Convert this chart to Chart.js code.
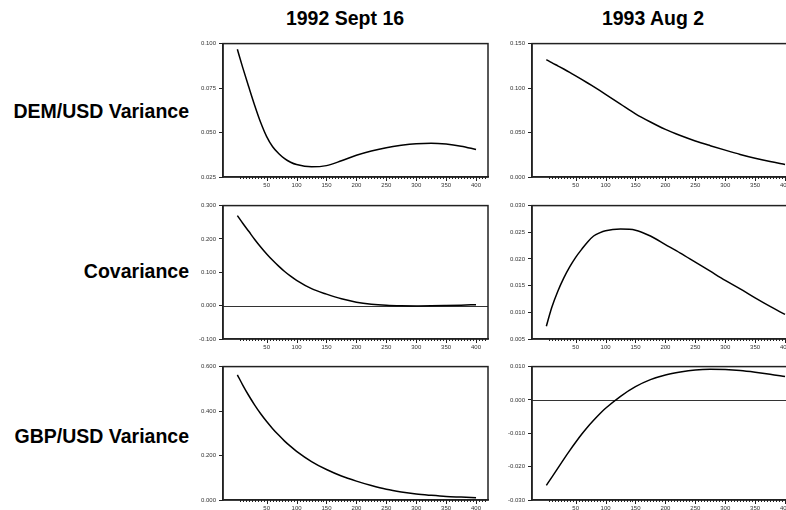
<!DOCTYPE html>
<html>
<head>
<meta charset="utf-8">
<script src="https://cdn.jsdelivr.net/npm/chart.js@4.4.1/dist/chart.umd.min.js"></script>
<style>
  body { margin: 0; width: 786px; height: 510px; overflow: hidden; background: #fff; position: relative;
         font-family: "Liberation Sans", Arial, sans-serif; }
  canvas { position: absolute; }
  .lbl { position: absolute; font-weight: bold; font-size: 19.5px; color: #000; white-space: nowrap; transform: translateY(-50%); }
  .col { text-align: center; width: 200px; }
  .row { text-align: right; width: 189px; left: 0; }
</style>
</head>
<body>
<div class="lbl col" style="left:245px; top:18px;">1992 Sept 16</div>
<div class="lbl col" style="left:553px; top:18px;">1993 Aug 2</div>
<div class="lbl row" style="top:111px;">DEM/USD Variance</div>
<div class="lbl row" style="top:271px;">Covariance</div>
<div class="lbl row" style="top:436px;">GBP/USD Variance</div>

<canvas id="p1" width="310" height="158" style="left:183px; top:37px;"></canvas>
<canvas id="p2" width="310" height="158" style="left:492px; top:37px;"></canvas>
<canvas id="p3" width="310" height="158" style="left:183px; top:199px;"></canvas>
<canvas id="p4" width="310" height="158" style="left:492px; top:199px;"></canvas>
<canvas id="p5" width="310" height="158" style="left:183px; top:360px;"></canvas>
<canvas id="p6" width="310" height="158" style="left:492px; top:360px;"></canvas>

<script>
// horizon (steps ahead)
const steps = [1, 10, 20, 30, 40, 50, 60, 70, 80, 90, 100, 125, 150, 175, 200, 225, 250, 275, 300, 325, 350, 375, 400];

const demVar1992 = [0.0968, 0.0865, 0.0757, 0.0652, 0.0556, 0.0477, 0.0420, 0.0382, 0.0353, 0.0333, 0.0320, 0.0307, 0.0314, 0.0341, 0.0372, 0.0396, 0.0415, 0.0428, 0.0437, 0.0440, 0.0435, 0.0423, 0.0405];
const demVar1993 = [0.1320, 0.1286, 0.1250, 0.1214, 0.1177, 0.1138, 0.1098, 0.1057, 0.1015, 0.0973, 0.0930, 0.0820, 0.0710, 0.0618, 0.0535, 0.0466, 0.0405, 0.0352, 0.0302, 0.0254, 0.0211, 0.0174, 0.0141];
const cov1992 = [0.270, 0.247, 0.223, 0.1985, 0.176, 0.155, 0.136, 0.1185, 0.1025, 0.0885, 0.076, 0.051, 0.0345, 0.0205, 0.0105, 0.0045, 0.0012, -0.0003, -0.0008, -0.0006, 0.0003, 0.0015, 0.0030];
const cov1993 = [0.0074, 0.0109, 0.0139, 0.0164, 0.0185, 0.0203, 0.0218, 0.0232, 0.0243, 0.0249, 0.0253, 0.0256, 0.0254, 0.0243, 0.0227, 0.0211, 0.0194, 0.0177, 0.0160, 0.0144, 0.0127, 0.0111, 0.0096];
const gbpVar1992 = [0.563, 0.517, 0.470, 0.427, 0.388, 0.353, 0.321, 0.292, 0.265, 0.241, 0.219, 0.173, 0.137, 0.108, 0.085, 0.065, 0.048, 0.036, 0.027, 0.021, 0.016, 0.013, 0.010];
const gbpVar1993 = [-0.0256, -0.0232, -0.0205, -0.0178, -0.0152, -0.0127, -0.0103, -0.0081, -0.0061, -0.0042, -0.0025, 0.0011, 0.0040, 0.0061, 0.0075, 0.0084, 0.0090, 0.0092, 0.0091, 0.0088, 0.0083, 0.0077, 0.0070];

// y tick labels per panel
const ticksP1 = [0.025, 0.050, 0.075, 0.100];
const ticksP2 = [0.000, 0.050, 0.100, 0.150];
const ticksP3 = [-0.100, 0.000, 0.100, 0.200, 0.300];
const ticksP4 = [0.005, 0.010, 0.015, 0.020, 0.025, 0.030];
const ticksP5 = [0.000, 0.200, 0.400, 0.600];
const ticksP6 = [-0.030, -0.020, -0.010, 0.000, 0.010];

// x axis: minor ticks every 5, labels every 50
const xMinorTicks = [];
for (let v = 5; v <= 415; v += 5) xMinorTicks.push(v);

const FONT = '"Liberation Sans", Arial, sans-serif';

// frame box, zero line and the x tick marks
const framePlugin = {
  id: 'frame',
  beforeDatasetsDraw(chart) {
    const { ctx, chartArea: a, scales: { y } } = chart;
    if (y.min < 0 && y.max > 0) {
      const py = Math.round(y.getPixelForValue(0)) + 0.5;
      ctx.save();
      ctx.strokeStyle = '#333';
      ctx.lineWidth = 1.2;
      ctx.beginPath();
      ctx.moveTo(a.left, py);
      ctx.lineTo(a.right, py);
      ctx.stroke();
      ctx.restore();
    }
  },
  afterDraw(chart) {
    const { ctx, chartArea: a, scales: { x } } = chart;
    ctx.save();
    ctx.strokeStyle = '#222';
    ctx.lineWidth = 1.5;
    ctx.strokeRect(a.left, a.top, a.right - a.left, a.bottom - a.top);
    ctx.lineWidth = 1;
    x.ticks.forEach(t => {
      const px = Math.round(x.getPixelForValue(t.value)) + 0.5;
      const len = t.value % 50 === 0 ? 4 : 2;
      ctx.beginPath();
      ctx.moveTo(px, a.bottom);
      ctx.lineTo(px, a.bottom + len);
      ctx.stroke();
    });
    ctx.restore();
  }
};

function makePanel(id, values, yTicks) {
  new Chart(document.getElementById(id), {
    type: 'line',
    data: {
      datasets: [{
        data: steps.map((s, i) => ({ x: s, y: values[i] })),
        borderColor: '#000',
        borderWidth: 1.5,
        pointRadius: 0,
        fill: false,
        cubicInterpolationMode: 'monotone'
      }]
    },
    options: {
      responsive: false,
      animation: false,
      devicePixelRatio: 1,
      layout: { padding: { left: 0, right: 5, top: 5, bottom: 0 } },
      plugins: { legend: { display: false }, tooltip: { enabled: false } },
      scales: {
        x: {
          type: 'linear',
          min: -23,
          max: 420,
          afterBuildTicks: s => { s.ticks = xMinorTicks.map(v => ({ value: v })); },
          afterFit: s => { s.height = 18; },
          grid: { drawOnChartArea: false, drawTicks: false },
          border: { display: true, color: '#222', width: 1.5 },
          ticks: {
            autoSkip: false,
            maxRotation: 0,
            padding: 5,
            color: '#333',
            font: { size: 6, family: FONT },
            callback: v => (v % 50 === 0 ? String(v) : '')
          }
        },
        y: {
          type: 'linear',
          min: yTicks[0],
          max: yTicks[yTicks.length - 1],
          afterBuildTicks: s => { s.ticks = yTicks.map(v => ({ value: v })); },
          afterFit: s => { s.width = 40; },
          grid: { drawOnChartArea: false, tickLength: 4, tickColor: '#222', tickWidth: 1 },
          border: { display: true, color: '#222', width: 1.5 },
          ticks: {
            padding: 3,
            color: '#333',
            font: { size: 6, family: FONT },
            callback: v => v.toFixed(3)
          }
        }
      }
    },
    plugins: [framePlugin]
  });
}

makePanel('p1', demVar1992, ticksP1);
makePanel('p2', demVar1993, ticksP2);
makePanel('p3', cov1992, ticksP3);
makePanel('p4', cov1993, ticksP4);
makePanel('p5', gbpVar1992, ticksP5);
makePanel('p6', gbpVar1993, ticksP6);
</script>
</body>
</html>
